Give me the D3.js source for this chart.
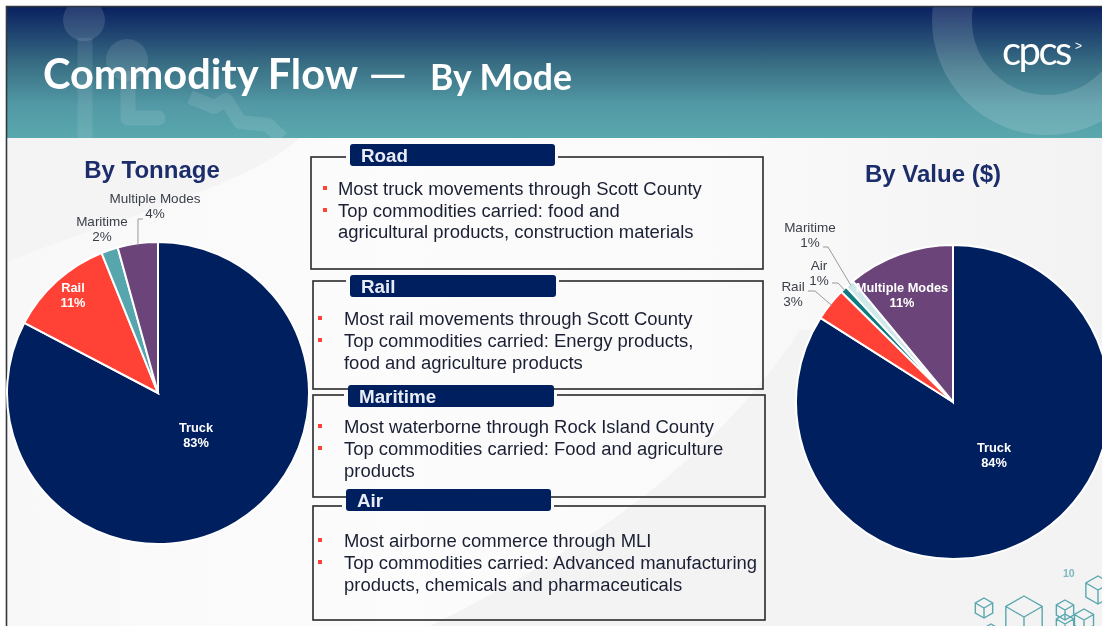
<!DOCTYPE html>
<html>
<head>
<meta charset="utf-8">
<script src="https://cdn.jsdelivr.net/npm/d3@7"></script>
<style>
html, body { margin: 0; padding: 0; background: #fff; overflow: hidden; }
svg { display: block; filter: blur(0.45px); }
text { font-family: "Liberation Sans", Arial, sans-serif; }
</style>
</head>
<body>
<div id="chart"></div>
<script>
// Commodity flow slide: two pies and four text panels

// data; labels show them rounded
let tonnageModes  = [ "Truck", "Rail", "Maritime", "Multiple Modes" ] ;
let tonnageShares = [ 82.7, 11.2, 1.8, 4.3 ] ;
let valueModes    = [ "Truck", "Rail", "Air", "Maritime", "Multiple Modes" ] ;
let valueShares   = [ 84, 3.4, 0.7, 0.9, 11 ] ;

let panelTitles  = [ "Road", "Rail", "Maritime", "Air" ] ;
let panelBullets = [
	[ [ "Most truck movements through Scott County" ],
	  [ "Top commodities carried: food and", "agricultural products, construction materials" ] ],
	[ [ "Most rail movements through Scott County" ],
	  [ "Top commodities carried: Energy products,", "food and agriculture products" ] ],
	[ [ "Most waterborne through Rock Island County" ],
	  [ "Top commodities carried: Food and agriculture", "products" ] ],
	[ [ "Most airborne commerce through MLI" ],
	  [ "Top commodities carried: Advanced manufacturing", "products, chemicals and pharmaceuticals" ] ]
] ;

// layout
let width = 1102, height = 626 ;
let navy = "#001f5f", teal = "#58a6ad", red = "#ff4136", ink = "#1a1f33" ;

let svg = d3.select("#chart").append("svg")
	.attr("width", width)
	.attr("height", height) ;

let defs = svg.append("defs") ;

let headGrad = defs.append("linearGradient").attr("id", "headGrad")
	.attr("x1", 0).attr("x2", 0).attr("y1", 0).attr("y2", 1) ;
headGrad.append("stop").attr("offset", "0%").attr("stop-color", "#0a2160") ;
headGrad.append("stop").attr("offset", "45%").attr("stop-color", "#3a7085") ;
headGrad.append("stop").attr("offset", "75%").attr("stop-color", "#5299a5") ;
headGrad.append("stop").attr("offset", "100%").attr("stop-color", "#5aa8ae") ;

let pageGrad = defs.append("linearGradient").attr("id", "pageGrad")
	.attr("x1", 0).attr("x2", 1).attr("y1", 0).attr("y2", 0) ;
pageGrad.append("stop").attr("offset", "0%").attr("stop-color", "#f8f8f8") ;
pageGrad.append("stop").attr("offset", "35%").attr("stop-color", "#fcfcfc") ;
pageGrad.append("stop").attr("offset", "65%").attr("stop-color", "#fafafa") ;
pageGrad.append("stop").attr("offset", "100%").attr("stop-color", "#f2f2f2") ;

defs.append("clipPath").attr("id", "headClip")
	.append("rect").attr("x", 7).attr("y", 7).attr("width", width - 7).attr("height", 131) ;

// page and header
svg.append("rect").attr("x", 7).attr("y", 7).attr("width", width).attr("height", height)
	.attr("fill", "url(#pageGrad)") ;

// soft swooshes behind the content
svg.append("path").attr("d", "M8,138 L300,138 C240,190 120,215 8,262 Z").attr("fill", "#f4f4f4") ;
svg.append("path").attr("d", "M430,626 C560,560 700,480 800,330 L1102,330 L1102,626 Z").attr("fill", "#f3f3f3") ;

svg.append("rect").attr("x", 7).attr("y", 7).attr("width", width).attr("height", 131)
	.attr("fill", "url(#headGrad)") ;

// header watermark
let mark = svg.append("g").attr("clip-path", "url(#headClip)")
	.attr("fill", "#fff").attr("stroke", "#fff") ;
mark.append("circle").attr("cx", 84).attr("cy", 20).attr("r", 21).attr("stroke", "none").attr("opacity", 0.12) ;
mark.append("path").attr("d", "M85,38 V138").attr("fill", "none").attr("stroke-width", 15).attr("opacity", 0.09) ;
mark.append("circle").attr("cx", 127).attr("cy", 60).attr("r", 21).attr("stroke", "none").attr("opacity", 0.11) ;
mark.append("path").attr("d", "M128,78 V118 H158").attr("fill", "none").attr("stroke-width", 15)
	.attr("stroke-linejoin", "round").attr("stroke-linecap", "round").attr("opacity", 0.1) ;
mark.append("path").attr("d", "M190,97 L214,107 L226,100 L240,122 L268,125 L282,138").attr("fill", "none").attr("stroke-width", 14)
	.attr("stroke-linejoin", "round").attr("opacity", 0.1) ;
mark.append("circle").attr("cx", 1047).attr("cy", 20).attr("r", 95).attr("fill", "none")
	.attr("stroke-width", 40).attr("opacity", 0.14) ;

// frame on left and top
svg.append("path").attr("d", "M6.5,626 V6.5 H1102").attr("fill", "none").attr("stroke", "#33383f").attr("stroke-width", 1.6) ;

// titles
svg.append("text").attr("x", 43).attr("y", 89)
	.style("font-family", "Lato").style("font-weight", 700).style("font-size", "41.5px").attr("fill", "#fff")
	.text("Commodity Flow") ;
svg.append("text").attr("x", 368).attr("y", 91)
	.style("font-family", "Lato").style("font-weight", 400).style("font-size", "50px").attr("fill", "#fff")
	.text("—") ;
svg.append("text").attr("x", 430).attr("y", 90)
	.style("font-family", "Lato").style("font-weight", 700).style("font-size", "35.5px").attr("fill", "#fff")
	.text("By Mode") ;

// logo
svg.append("text").attr("x", 1002).attr("y", 65)
	.style("font-family", "Lato").style("font-weight", 400).style("font-size", "40px").style("letter-spacing", "-2.5px")
	.attr("fill", "#fff").text("cpcs") ;
svg.append("text").attr("x", 1075).attr("y", 50)
	.style("font-size", "12px").attr("fill", "#fff").text(">") ;

// pies
let piePanels = [
	{ title: "By Tonnage", titleX: 152, titleY: 178, cx: 158, cy: 393, r: 151,
	  modes: tonnageModes, shares: tonnageShares,
	  colors: [ navy, red, teal, "#6b4479" ],
	  labels: [
		{ dx: 38,   dy: 39,   fill: "#fff", bold: true },
		{ dx: -85,  dy: -101, fill: "#fff", bold: true },
		{ dx: -56,  dy: -167, fill: "#3a3f4a" },
		{ dx: -3,   dy: -190, fill: "#3a3f4a", elbow: [ [ -20, -174 ], [ -15, -174 ] ] }
	  ] },
	{ title: "By Value ($)", titleX: 933, titleY: 182, cx: 953, cy: 402, r: 157,
	  modes: valueModes, shares: valueShares,
	  colors: [ navy, red, "#0f7b80", "#cfe8ea", "#6b4479" ],
	  labels: [
		{ dx: 41,   dy: 50,   fill: "#fff", bold: true },
		{ dx: -160, dy: -111, fill: "#3a3f4a", elbow: [ [ -138, -111 ], [ -145, -111 ] ] },
		{ dx: -134, dy: -132, fill: "#3a3f4a", elbow: [ [ -115, -119 ], [ -121, -119 ] ] },
		{ dx: -143, dy: -170, fill: "#3a3f4a", elbow: [ [ -125, -155 ], [ -130, -155 ] ] },
		{ dx: -51,  dy: -110, fill: "#fff", bold: true }
	  ] }
] ;

let pie = d3.pie().sort(null).value( d => d ) ;

piePanels.forEach( p => {

	svg.append("text")
		.attr("x", p.titleX).attr("y", p.titleY)
		.attr("text-anchor", "middle")
		.style("font-weight", 700).style("font-size", "24px")
		.attr("fill", "#1c2d6b")
		.text(p.title) ;

	let arc  = d3.arc().innerRadius(0).outerRadius(p.r) ;
	let edge = d3.arc().innerRadius(p.r - 2).outerRadius(p.r - 2) ;
	let g    = svg.append("g").attr("transform", "translate(" + p.cx + "," + p.cy + ")") ;
	let arcs = pie(p.shares) ;

	g.selectAll("path.slice")
		.data(arcs)
		.join("path")
		.attr("class", "slice")
		.attr("d", arc)
		.attr("fill", (d, i) => p.colors[i])
		.attr("stroke", "#fff")
		.attr("stroke-width", 2) ;

	// leader lines run from the slice edge to the label
	g.selectAll("path.leader")
		.data(arcs.filter( (d, i) => p.labels[i].elbow ))
		.join("path")
		.attr("class", "leader")
		.attr("fill", "none")
		.attr("stroke", "#9a9a9a")
		.attr("stroke-width", 1)
		.attr("d", d => d3.line()( [ edge.centroid(d), ...p.labels[d.index].elbow ] )) ;

	let labels = g.selectAll("text.lab")
		.data(arcs)
		.join("text")
		.attr("class", "lab")
		.attr("text-anchor", "middle")
		.attr("fill", (d, i) => p.labels[i].fill)
		.style("font-size", (d, i) => p.labels[i].bold ? "12.8px" : "13.5px")
		.style("font-weight", (d, i) => p.labels[i].bold ? 700 : 400) ;

	labels.append("tspan")
		.attr("x", (d, i) => p.labels[i].dx)
		.attr("y", (d, i) => p.labels[i].dy)
		.text( (d, i) => p.modes[i] ) ;
	labels.append("tspan")
		.attr("x", (d, i) => p.labels[i].dx)
		.attr("y", (d, i) => p.labels[i].dy + 15)
		.text( (d, i) => Math.round(p.shares[i]) + "%" ) ;
}) ;

// text panels
let panelBoxes = [
	{ x: 311, y: 157, w: 452, h: 112, pillX: 350, pillY: 144, pillW: 205, bulletX: 325, textX: 338, lines: [ 194.5, 216.5, 237.5 ] },
	{ x: 313, y: 281, w: 450, h: 108, pillX: 350, pillY: 275, pillW: 206, bulletX: 320, textX: 344, lines: [ 324.5, 346.5, 368.5 ] },
	{ x: 313, y: 395, w: 452, h: 102, pillX: 348, pillY: 385, pillW: 206, bulletX: 320, textX: 344, lines: [ 432.5, 454.5, 476.5 ] },
	{ x: 313, y: 506, w: 452, h: 114, pillX: 346, pillY: 489, pillW: 205, bulletX: 320, textX: 344, lines: [ 546.5, 568.5, 590.5 ] }
] ;

panelBoxes.forEach( (b, i) => {

	let g = svg.append("g") ;

	g.append("rect")
		.attr("x", b.x).attr("y", b.y).attr("width", b.w).attr("height", b.h)
		.attr("fill", "none").attr("stroke", "#2a2a2a").attr("stroke-width", 1.6) ;

	// gap in the frame around the heading
	g.append("rect")
		.attr("x", b.pillX - 4).attr("y", b.y - 2).attr("width", b.pillW + 7).attr("height", 4)
		.attr("fill", "#fbfbfb") ;

	g.append("rect")
		.attr("x", b.pillX).attr("y", b.pillY).attr("width", b.pillW).attr("height", 22)
		.attr("rx", 3).attr("fill", navy) ;

	g.append("text")
		.attr("x", b.pillX + 11).attr("y", b.pillY + 17.5)
		.attr("fill", "#e8ecf5")
		.style("font-weight", 700).style("font-size", "18.8px")
		.text(panelTitles[i]) ;

	let row = 0 ;
	panelBullets[i].forEach( bullet => {
		g.append("rect")
			.attr("x", b.bulletX - 2).attr("y", b.lines[row] - 8.5)
			.attr("width", 4).attr("height", 4)
			.attr("fill", red) ;

		// wrapped lines of one bullet stay in one text element
		let t = g.append("text")
			.attr("fill", ink)
			.style("font-size", "18.45px") ;
		bullet.forEach( line => {
			t.append("tspan")
				.attr("x", b.textX).attr("y", b.lines[row])
				.text(line) ;
			row++ ;
		}) ;
	}) ;
}) ;

// page number and cube decoration
svg.append("text").attr("x", 1063).attr("y", 577)
	.attr("fill", "#7fb9c0").style("font-size", "10.5px").style("font-weight", 700).text("10") ;

let cubes = [ [ 984, 608, 10 ], [ 1024, 617, 21 ], [ 1065, 610, 10 ], [ 1065, 624, 10 ], [ 1084, 620, 11 ], [ 1098, 590, 14 ], [ 991, 630, 6 ] ] ;
let cubeGroup = svg.append("g").attr("fill", "none").attr("stroke", "#5aa8ae").attr("stroke-width", 1.4) ;
cubes.forEach( c => {
	let cx = c[0], cy = c[1], s = c[2] ;
	let a = s * 0.866 ;
	cubeGroup.append("path").attr("d",
		"M" + cx + "," + (cy - s) + " L" + (cx + a) + "," + (cy - s / 2) + " V" + (cy + s / 2) +
		" L" + cx + "," + (cy + s) + " L" + (cx - a) + "," + (cy + s / 2) + " V" + (cy - s / 2) + " Z" +
		" M" + (cx - a) + "," + (cy - s / 2) + " L" + cx + "," + cy + " L" + (cx + a) + "," + (cy - s / 2) +
		" M" + cx + "," + cy + " V" + (cy + s)
	) ;
}) ;
</script>
</body>
</html>
